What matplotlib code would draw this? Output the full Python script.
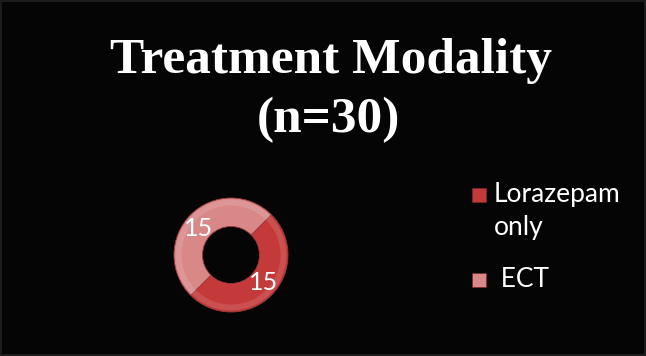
import matplotlib.pyplot as plt
from matplotlib.patches import Rectangle

# data
categories = ["Lorazepam\nonly", " ECT"]
counts = [15, 15]
colors = ["#C4393A", "#D98888"]

title_line1 = "Treatment Modality"
title_line2 = "(n=30)"

W, H = 646, 356
fig = plt.figure(figsize=(W / 100, H / 100), dpi=100, facecolor="#050505")

# thin dark frame around the slide
fig.patches.append(Rectangle((0.002, 0.003), 0.996, 0.994, transform=fig.transFigure,
                             fill=False, edgecolor="#1c1c1c", linewidth=1.5))

fig.text(331 / W, 1 - 73 / H, title_line1, ha="center", va="baseline", color="white",
         fontsize=37, fontweight="bold", family="Liberation Serif")
fig.text(328 / W, 1 - 132 / H, title_line2, ha="center", va="baseline", color="white",
         fontsize=37, fontweight="bold", family="Liberation Serif")

# donut
cx, cy, r = 231, 255, 57
ax = fig.add_axes([(cx - r) / W, (H - cy - r) / H, 2 * r / W, 2 * r / H])
ax.set_facecolor("none")
wedges, _ = ax.pie(counts, colors=colors, startangle=45, counterclock=False, radius=1.0,
                   wedgeprops=dict(width=0.5, edgecolor="#9a3a3a", linewidth=0.6))
# soft highlight on the outer rim for a bit of the bevel look
ax.pie(counts, colors=["white", "white"], startangle=45, counterclock=False, radius=0.97,
       wedgeprops=dict(width=0.1, alpha=0.12, linewidth=0))
ax.set_xlim(-1, 1)
ax.set_ylim(-1, 1)
ax.set_aspect("equal")
ax.axis("off")

# value labels, placed on the ring of each slice
label_pos = [(264, 283), (199, 229)]
for (px, py), val in zip(label_pos, counts):
    fig.text(px / W, 1 - py / H, str(val), ha="center", va="center", color="white",
             fontsize=18, family="Lato")

# legend drawn by hand to match the slide layout
legend_y = [195, 280]
for i, (name, col) in enumerate(zip(categories, colors)):
    y = legend_y[i]
    fig.patches.append(Rectangle(((479 - 7) / W, 1 - (y + 7) / H), 14 / W, 14 / H,
                                 transform=fig.transFigure, facecolor=col,
                                 edgecolor="#7a2a2a", linewidth=0.5))
    fig.text(494 / W, 1 - (y - 13) / H, name, ha="left", va="top", color="white",
             fontsize=19, family="Lato", linespacing=1.38)

fig.savefig("out.png", dpi=100, facecolor=fig.get_facecolor())
